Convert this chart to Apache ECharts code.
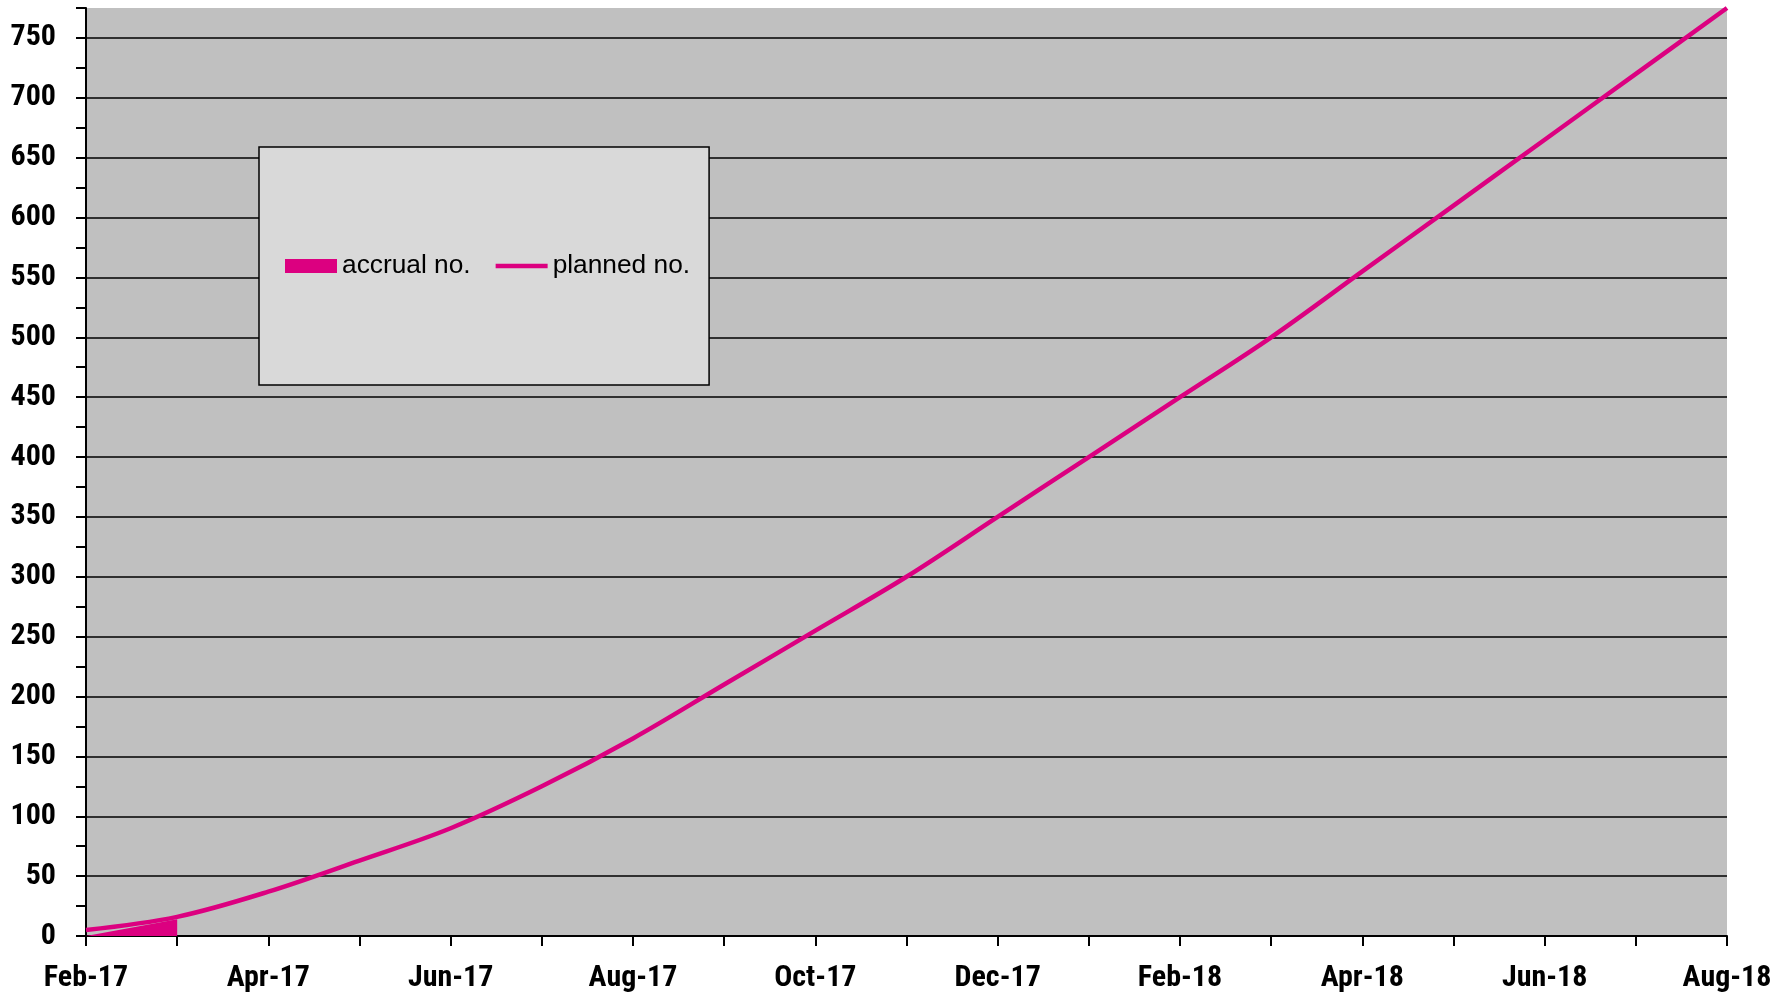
<!DOCTYPE html>
<html>
<head>
<meta charset="utf-8">
<title>Accrual vs planned</title>
<script src="https://cdn.jsdelivr.net/npm/echarts@6/dist/echarts.min.js"></script>
<style>
  html, body { margin: 0; padding: 0; background: #ffffff; }
  #chart { width: 1787px; height: 1001px; }
</style>
</head>
<body>
<div id="chart"></div>
<script>
// Monthly axis categories
var months = ['Feb-17', 'Mar-17', 'Apr-17', 'May-17', 'Jun-17', 'Jul-17', 'Aug-17',
              'Sep-17', 'Oct-17', 'Nov-17', 'Dec-17', 'Jan-18', 'Feb-18', 'Mar-18',
              'Apr-18', 'May-18', 'Jun-18', 'Jul-18', 'Aug-18'];

// Cumulative planned recruitment
var plannedNo = [5, 16, 37, 63, 90, 125, 165, 210, 255, 300, 350, 400, 450, 500,
                 555, 610, 665, 720, 775];

// Cumulative actual accrual (recorded so far)
var accrualNo = [0, 14];

var MAGENTA = '#dc0080';
// narrow bold face for the axis numbers, falling back to the Arial-metric sans
var labelFont = "'Roboto Condensed', 'Liberation Sans Narrow', 'Liberation Sans', Arial, sans-serif";
var labelWeight = 'bold';
var labelSize = 30;

var chart = echarts.init(document.getElementById('chart'), null, { renderer: 'canvas' });

chart.setOption({
  animation: false,
  backgroundColor: '#ffffff',
  grid: {
    left: 86,
    right: 60,
    top: 8,
    bottom: 65,
    show: true,
    backgroundColor: '#c0c0c0',
    borderWidth: 0,
    containLabel: false,
    outerBoundsMode: 'none'
  },
  legend: {
    left: 259,
    top: 147,
    orient: 'horizontal',
    backgroundColor: '#d9d9d9',
    borderColor: '#000000',
    borderWidth: 1.5,
    padding: [106, 19, 106, 26],
    itemWidth: 52,
    itemHeight: 14,
    itemGap: 25,
    textStyle: {
      fontFamily: "'Liberation Sans', Arial, sans-serif",
      fontSize: 26.3,
      color: '#000000'
    },
    data: [
      { name: 'accrual no.', icon: 'rect' },
      { name: 'planned no.', icon: 'path://M0 0H52V4.5H0Z' }
    ]
  },
  xAxis: {
    type: 'category',
    data: months,
    boundaryGap: false,
    axisLine: { show: true, onZero: false, lineStyle: { color: '#000000', width: 2 } },
    axisTick: { show: true, interval: 0, inside: false, length: 10, lineStyle: { color: '#000000', width: 2 } },
    axisLabel: {
      interval: 1,
      margin: 27,
      fontFamily: labelFont,
      fontWeight: labelWeight,
      fontSize: labelSize,
      color: '#000000'
    },
    splitLine: { show: false }
  },
  yAxis: {
    type: 'value',
    min: 0,
    max: 775,
    interval: 25,
    axisLine: { show: true, lineStyle: { color: '#000000', width: 2 } },
    axisTick: { show: true, inside: false, length: 10, lineStyle: { color: '#000000', width: 2 } },
    axisLabel: {
      margin: 30,
      fontFamily: labelFont,
      fontWeight: labelWeight,
      fontSize: labelSize,
      color: '#000000',
      formatter: function (v) { return v % 50 === 0 ? String(v) : ''; }
    },
    // gridlines only on the 50-steps
    splitLine: { show: true, lineStyle: { color: ['#000000', 'rgba(0,0,0,0)'], width: 1.5 } }
  },
  series: [
    {
      name: 'accrual no.',
      type: 'line',
      data: accrualNo,
      symbol: 'none',
      color: MAGENTA,
      lineStyle: { width: 0, color: MAGENTA },
      itemStyle: { color: MAGENTA },
      areaStyle: { color: MAGENTA, opacity: 1 },
      z: 2
    },
    {
      name: 'planned no.',
      type: 'line',
      data: plannedNo,
      symbol: 'none',
      smooth: 0.35,
      color: MAGENTA,
      lineStyle: { width: 4.5, color: MAGENTA },
      itemStyle: { color: MAGENTA },
      z: 3
    }
  ]
});
</script>
</body>
</html>
